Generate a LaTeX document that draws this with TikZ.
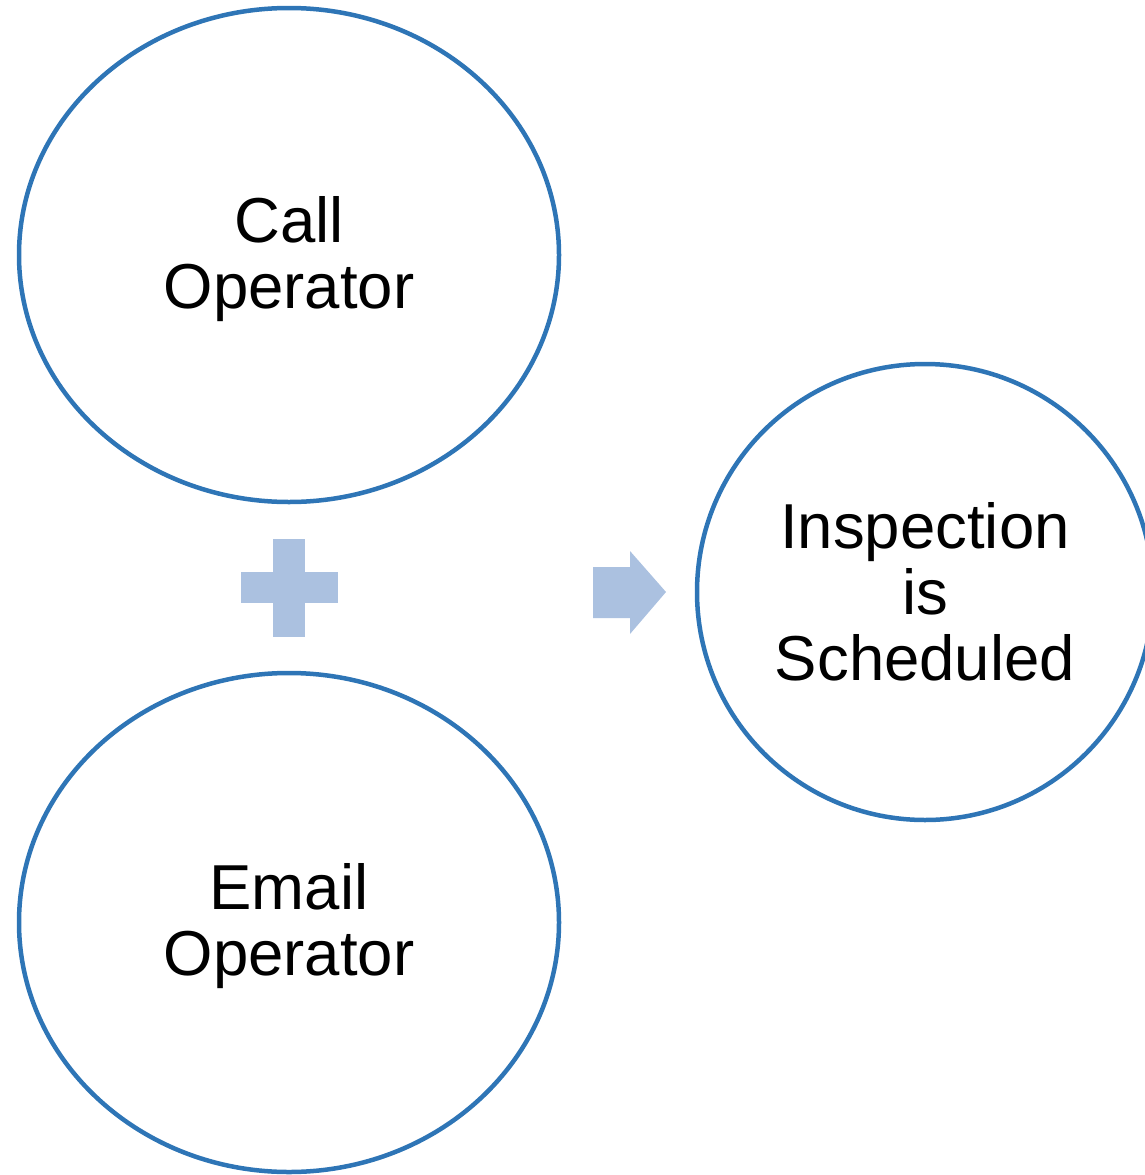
\documentclass[tikz,border=0pt]{standalone}
\usepackage{fontspec}
\setmainfont{Liberation Sans}
\usetikzlibrary{shapes.geometric}

\definecolor{ringblue}{RGB}{46,117,182}
\definecolor{signblue}{RGB}{171,193,224}
\gdef\Afill{white}

\begin{document}
\begin{tikzpicture}[x=1pt, y=-1pt,
  ring/.style={draw=ringblue, line width=4.5pt, ellipse, fill=\Afill, align=center,
    font=\fontsize{63.5}{66}\selectfont, inner sep=0pt,
    minimum width=540pt, minimum height=494pt}]
\useasboundingbox (0,0) rectangle (1145,1175);
\clip (0,0) rectangle (1145,1175);
\node[ring, text depth=6pt] (call) at (289,255) {Call\\Operator};
\node[ring, text depth=6pt, minimum height=499pt] (email) at (289,922.5) {Email\\Operator};
\node[ring, minimum width=456pt, minimum height=456pt] (insp) at (925,592) {Inspection\\is\\Scheduled};
% plus between the two operators
\fill[signblue] (273,539) rectangle (305,637);
\fill[signblue] (241,572) rectangle (338,603);
% arrow to the result
\fill[signblue] (593,567) -- (630,567) -- (630,551) -- (666,592) -- (630,634) -- (630,618) -- (593,618) -- cycle;
\end{tikzpicture}
\end{document}
